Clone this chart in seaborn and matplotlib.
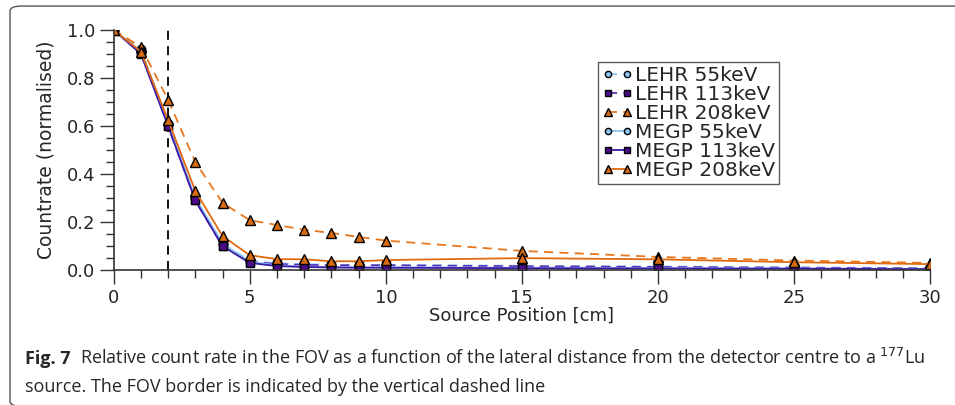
import pandas as pd
import seaborn as sns
import matplotlib.pyplot as plt
from matplotlib.patches import FancyBboxPatch
from matplotlib.ticker import MultipleLocator

# source positions [cm]
positions = [0, 1, 2, 3, 4, 5, 6, 7, 8, 9, 10, 15, 20, 25, 30]

# normalised countrates
lehr_55 = [1.0, 0.92, 0.61, 0.30, 0.11, 0.040, 0.028, 0.025, 0.022, 0.022, 0.022, 0.018, 0.015, 0.012, 0.008]
lehr_113 = [1.0, 0.91, 0.60, 0.29, 0.10, 0.035, 0.025, 0.022, 0.020, 0.020, 0.020, 0.016, 0.013, 0.010, 0.007]
lehr_208 = [1.0, 0.93, 0.71, 0.45, 0.28, 0.208, 0.188, 0.168, 0.155, 0.138, 0.123, 0.080, 0.055, 0.040, 0.030]
megp_55 = [1.0, 0.91, 0.61, 0.30, 0.11, 0.035, 0.020, 0.015, 0.013, 0.012, 0.012, 0.010, 0.009, 0.007, 0.005]
megp_113 = [1.0, 0.90, 0.60, 0.29, 0.10, 0.030, 0.017, 0.013, 0.011, 0.010, 0.010, 0.008, 0.007, 0.006, 0.004]
megp_208 = [1.0, 0.91, 0.625, 0.33, 0.142, 0.062, 0.046, 0.045, 0.037, 0.037, 0.042, 0.050, 0.045, 0.033, 0.025]

series_names = ["LEHR 55keV", "LEHR 113keV", "LEHR 208keV", "MEGP 55keV", "MEGP 113keV", "MEGP 208keV"]
series_values = [lehr_55, lehr_113, lehr_208, megp_55, megp_113, megp_208]

fov_border = 2

# colours / styles for each series
line_colors = ["#8cc4f2", "#5a2bb5", "#e8761c", "#8cc4f2", "#3d1aa8", "#e06a10"]
face_colors = ["#8cc4f2", "#4b0a8a", "#d86a10", "#8cc4f2", "#4b0a8a", "#d86a10"]
markers = ["o", "s", "^", "o", "s", "^"]
is_dashed = [True, True, True, False, False, False]

data = pd.DataFrame({
    "pos": positions * len(series_names),
    "rate": [v for vals in series_values for v in vals],
    "series": [n for n in series_names for _ in positions],
})

sns.set_style("ticks")
plt.rcParams['font.family'] = ['DejaVu Sans']

fig = plt.figure(figsize=(9.55, 4.05), dpi=100)
ax = fig.add_axes([0.119, 0.333, 0.855, 0.593])

for i, name in enumerate(series_names):
    sub = data[data["series"] == name]
    sns.lineplot(data=sub, x="pos", y="rate", ax=ax, color=line_colors[i],
                 marker=markers[i], markersize=7 if markers[i] == "^" else 6,
                 markerfacecolor=face_colors[i], markeredgecolor="black",
                 markeredgewidth=1.0, linewidth=1.3, label=name)
    if is_dashed[i]:
        ax.lines[-1].set_dashes((5, 3.5))

ax.plot([fov_border, fov_border], [0, 1.0], color="black", linestyle="--",
        dashes=(5, 3.5), linewidth=1.3, zorder=1)

ax.set_xlim(0, 30)
ax.set_ylim(0, 1.0)
ax.xaxis.set_major_locator(MultipleLocator(5))
ax.xaxis.set_minor_locator(MultipleLocator(1))
ax.yaxis.set_major_locator(MultipleLocator(0.2))
ax.yaxis.set_minor_locator(MultipleLocator(0.05))
ax.tick_params(axis="both", which="major", labelsize=13, length=10, width=1, color="#333333")
ax.tick_params(axis="both", which="minor", length=6, width=1, color="#333333")
ax.set_xlabel("Source Position [cm]", fontsize=13, labelpad=0)
ax.set_ylabel("Countrate (normalised)", fontsize=13.5, labelpad=8)
sns.despine(ax=ax)
for s in ["left", "bottom"]:
    ax.spines[s].set_color("#333333")
    ax.spines[s].set_linewidth(1.2)

leg = ax.legend(loc="upper left", bbox_to_anchor=(0.593, 0.865), numpoints=2,
                fontsize=14.5, frameon=True, fancybox=False, handlelength=1.55,
                handletextpad=0.1, labelspacing=0.0, borderpad=0.2,
                borderaxespad=0, markerscale=0.75)
leg.get_frame().set_edgecolor("#333333")
leg.get_frame().set_linewidth(1.0)

# caption
fig.text(0.026, 0.101, "Fig. 7", fontsize=13, fontweight="bold", family=["Open Sans"])
fig.text(0.084, 0.101, "Relative count rate in the FOV as a function of the lateral distance from the detector centre to a $^{177}$Lu",
         fontsize=13, family=["Open Sans"])
fig.text(0.026, 0.033, "source. The FOV border is indicated by the vertical dashed line",
         fontsize=13, family=["Open Sans"])

box = FancyBboxPatch((0.0105, -0.003), 1.05, 0.988, boxstyle="round,pad=0,rounding_size=0.012",
                     transform=fig.transFigure, facecolor="none", edgecolor="#555555",
                     linewidth=1.0)
fig.patches.append(box)

fig.savefig("out.png", dpi=100)
